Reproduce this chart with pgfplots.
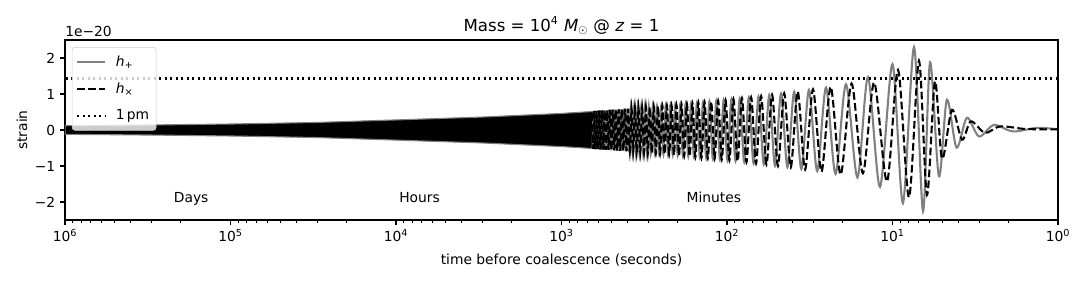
\documentclass[border=0pt]{standalone}
\usepackage{fontspec}
\setmainfont{DejaVu Sans}
\usepackage{pgfplots}
\pgfplotsset{compat=1.18}
\definecolor{mplgray}{HTML}{808080}
\begin{document}
\begin{tikzpicture}
\path[use as bounding box] (-0.65in,-0.63in) rectangle (10.21in,2.2in);
\begin{axis}[
 at={(0,0)}, anchor=south west,
 scale only axis, width=9.93in, height=1.8in,
 xmode=log, x dir=reverse, xmin=1, xmax=1000000,
 ymin=-2.5, ymax=2.5,
 xtick={1,10,100,1000,10000,100000,1000000},
 xticklabels={10\textsuperscript{0},10\textsuperscript{1},10\textsuperscript{2},10\textsuperscript{3},10\textsuperscript{4},10\textsuperscript{5},10\textsuperscript{6}},
 minor xtick={2,3,4,5,6,7,8,9,20,30,40,50,60,70,80,90,200,300,400,500,600,700,800,900,2000,3000,4000,5000,6000,7000,8000,9000,20000,30000,40000,50000,60000,70000,80000,90000,200000,300000,400000,500000,600000,700000,800000,900000},
 ytick={-2,-1,0,1,2},
 yticklabels={−2,−1,0,1,2},
 tick align=outside, tick pos=left,
 major tick length=3.5pt, minor tick length=2pt,
 tick style={black, line width=0.8pt},
 minor tick style={black, line width=0.6pt},
 axis line style={line width=0.8pt},
 tick label style={font=\normalsize},
 xlabel={time before coalescence (seconds)},
 ylabel={strain},
 xlabel style={at={(axis description cs:0.5,-0.222)}, anchor=center},
 ylabel style={at={(axis description cs:-0.0433,0.5)}, anchor=center},
 title={Mass = 10\textsuperscript{4} \textit{M}\textsubscript{$\odot$} @ \textit{z} = 1},
 title style={font=\large, at={(axis description cs:0.5,1)}, anchor=base, yshift=0.5pt},
 legend style={at={(axis description cs:0.007,0.961)}, anchor=north west, draw=black!20, rounded corners=2pt, fill=white, fill opacity=0.8, text opacity=1, inner xsep=3pt, inner ysep=4pt, row sep=6.5pt, font=\normalsize, /tikz/every odd column/.append style={column sep=5pt}},
 legend cell align=left,
 legend image code/.code={\draw[#1] (0pt,0pt) -- (20pt,0pt);},
 after end axis/.code={\node[anchor=base west, inner sep=0pt] at (rel axis cs:0,1.02) {1e−20};},
]
% dense early inspiral: envelope band
\addplot[draw=mplgray, line width=0.8pt, fill=black, forget plot] coordinates {
(1000000,0.12)(300000,0.14)(100000,0.166)(30000,0.21)(10000,0.28)(3000,0.36)(1000,0.46)(620,0.52)
(620,-0.52)(1000,-0.46)(3000,-0.36)(10000,-0.28)(30000,-0.21)(100000,-0.166)(300000,-0.14)(1000000,-0.12)
} --cycle;
% h_plus
\addplot[mplgray, line width=1.5pt, smooth] coordinates {
(1,0.02)(1.34,0.06)(1.87,-0.04)(2.44,0.14)(3.00,-0.18)(3.55,0.34)(4.10,-0.49)(4.69,0.84)(5.24,-1.29)(5.93,1.88)(6.54,-2.26)(7.41,2.30)(8.65,-2.03)(10.0,1.83)(11.9,-1.58)(14.06,1.47)(16.28,-1.32)(19.10,1.27)(22.08,-1.22)(25.22,1.18)(28.51,-1.14)(31.96,1.11)(35.55,-1.08)(39.28,1.06)(43.14,-1.03)(47.15,1.01)(51.28,-0.99)(55.54,0.97)(59.94,-0.95)(64.45,0.93)(69.10,-0.92)(73.86,0.90)(78.72,-0.89)(83.71,0.87)(88.82,-0.86)(94.03,0.85)(99.35,-0.84)(104.8,0.83)(110.3,-0.82)(115.9,0.81)(121.7,-0.80)(127.6,0.79)(133.5,-0.78)(139.6,0.77)(145.8,-0.76)(152.0,0.75)(158.4,-0.75)(164.8,0.74)(171.4,-0.73)(178.0,0.72)(184.8,-0.72)(191.6,0.71)(198.5,-0.70)(205.6,0.70)(212.7,-0.69)(219.9,0.69)(227.2,-0.68)(234.5,0.68)(242.0,-0.67)(249.5,0.67)(257.2,-0.66)(264.9,0.66)(272.8,-0.65)(280.7,0.65)(288.7,-0.64)(296.7,0.64)(304.9,-0.63)(313.1,0.63)(321.5,-0.62)(329.9,0.62)(338.4,-0.62)(346.9,0.61)(355.5,-0.61)(364.2,0.61)(372.9,-0.60)
(381.85,0.60)(390.81,-0.60)(399.84,0.59)(408.94,-0.59)(418.12,0.59)(427.38,-0.58)(436.72,0.58)(446.14,-0.58)(455.62,0.57)(465.18,-0.57)(474.82,0.57)(484.53,-0.56)(494.31,0.56)(504.17,-0.56)(514.10,0.56)(524.10,-0.55)(534.18,0.55)(544.32,-0.55)(554.54,0.55)(564.82,-0.54)(575.18,0.54)(585.61,-0.54)(596.11,0.54)(606.68,-0.53)(617.32,0.53)(628.03,-0.53)(638.81,0.53)(649.65,-0.52)
};
\addlegendentry{\textit{h}\textsubscript{+}}
% h_cross
\addplot[black, line width=1.5pt, smooth, dash pattern=on 5.55pt off 2.4pt] coordinates {
(1,0.02)(1.25,0.02)(1.6,0.03)(2.24,0.10)(2.76,-0.08)(3.36,0.24)(3.80,-0.27)(4.37,0.56)(5.02,-0.80)(5.54,1.35)(6.19,-1.80)(6.92,1.92)(7.95,-1.87)(9.26,1.67)(10.8,-1.43)(12.9,1.32)(15.1,-1.20)(17.67,1.29)(20.57,-1.24)(23.63,1.20)(26.85,-1.16)(30.22,1.13)(33.73,-1.10)(37.39,1.07)(41.19,-1.04)(45.12,1.02)(49.19,-1.00)(53.40,0.98)(57.72,-0.96)(62.17,0.94)(66.76,-0.93)(71.47,0.91)(76.28,-0.89)(81.20,0.88)(86.25,-0.87)(91.41,0.86)(96.68,-0.84)(102.0,0.83)(107.5,-0.82)(113.1,0.81)(118.8,-0.80)(124.6,0.79)(130.5,-0.78)(136.6,0.77)(142.6,-0.77)(148.9,0.76)(155.2,-0.75)(161.6,0.74)(168.1,-0.73)(174.7,0.73)(181.4,-0.72)(188.2,0.71)(195.1,-0.71)(202.0,0.70)(209.1,-0.70)(216.3,0.69)(223.5,-0.68)(230.8,0.68)(238.2,-0.67)(245.7,0.67)(253.4,-0.66)(261.1,0.66)(268.9,-0.65)(276.7,0.65)(284.7,-0.64)(292.7,0.64)(300.8,-0.64)(309.0,0.63)(317.2,-0.63)(325.6,0.62)(334.1,-0.62)(342.6,0.62)(351.2,-0.61)(359.8,0.61)(368.6,-0.60)(377.4,0.60)
(386.32,-0.60)(395.32,0.59)(404.38,-0.59)(413.52,0.59)(422.74,-0.58)(432.04,0.58)(441.42,-0.58)(450.87,0.57)(460.39,-0.57)(469.99,0.57)(479.67,-0.56)(489.41,0.56)(499.23,-0.56)(509.13,0.56)(519.09,-0.55)(529.13,0.55)(539.24,-0.55)(549.42,0.55)(559.67,-0.54)(569.99,0.54)(580.39,-0.54)(590.85,0.54)(601.39,-0.53)(611.99,0.53)(622.67,-0.53)(633.41,0.53)(644.22,-0.52)(655.10,0.52)
};
\addlegendentry{\textit{h}\textsubscript{×}}
% 1 pm line
\addplot[black, line width=1.5pt, dash pattern=on 1.5pt off 2.475pt] coordinates {(1,1.43)(1000000,1.43)};
\addlegendentry{1\,pm}
\node[anchor=base] at (axis cs:172800,-2) {Days};
\node[anchor=base] at (axis cs:7200,-2) {Hours};
\node[anchor=base] at (axis cs:120,-2) {Minutes};
\end{axis}
\end{tikzpicture}
\end{document}
